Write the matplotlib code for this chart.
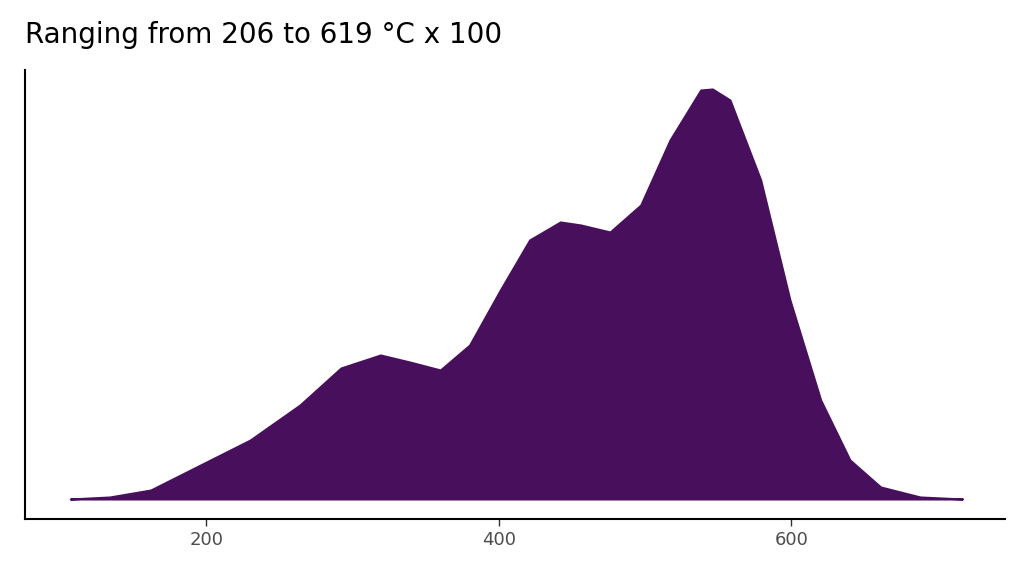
import matplotlib
matplotlib.use("Agg")
import matplotlib.pyplot as plt

temp = [107,134,162,196,230,264,292,319,339,360,380,401,421,442,456,476,497,517,538,546,558,579,599,620,640,661,688,717]
density = [0,2,9,34,59,94,131,144,137,129,154,209,259,277,274,267,294,359,409,410,399,319,199,99,39,12,2,0]
xticks = [200, 400, 600]
title = "Ranging from 206 to 619 °C x 100"

fig = plt.figure(figsize=(10.24, 5.76), dpi=100)
ax = fig.add_axes([0.0244, 0.099, 0.957, 0.7795])
ax.fill_between(temp, density, 0, color="#48105c", linewidth=1.5, edgecolor="#48105c")
ax.set_xlim(76, 746)
ax.set_ylim(-20, 429)
ax.set_xticks(xticks)
ax.set_xticklabels([str(t) for t in xticks], fontsize=13, color="#4d4d4d")
ax.set_yticks([])
ax.spines["top"].set_visible(False)
ax.spines["right"].set_visible(False)
ax.spines["left"].set_linewidth(1.5)
ax.spines["bottom"].set_linewidth(1.5)
ax.tick_params(axis="x", length=5, width=1, color="#333333")
fig.text(0.024, 0.915, title, fontsize=20, ha="left", va="bottom")
fig.savefig("out.png", dpi=100)
